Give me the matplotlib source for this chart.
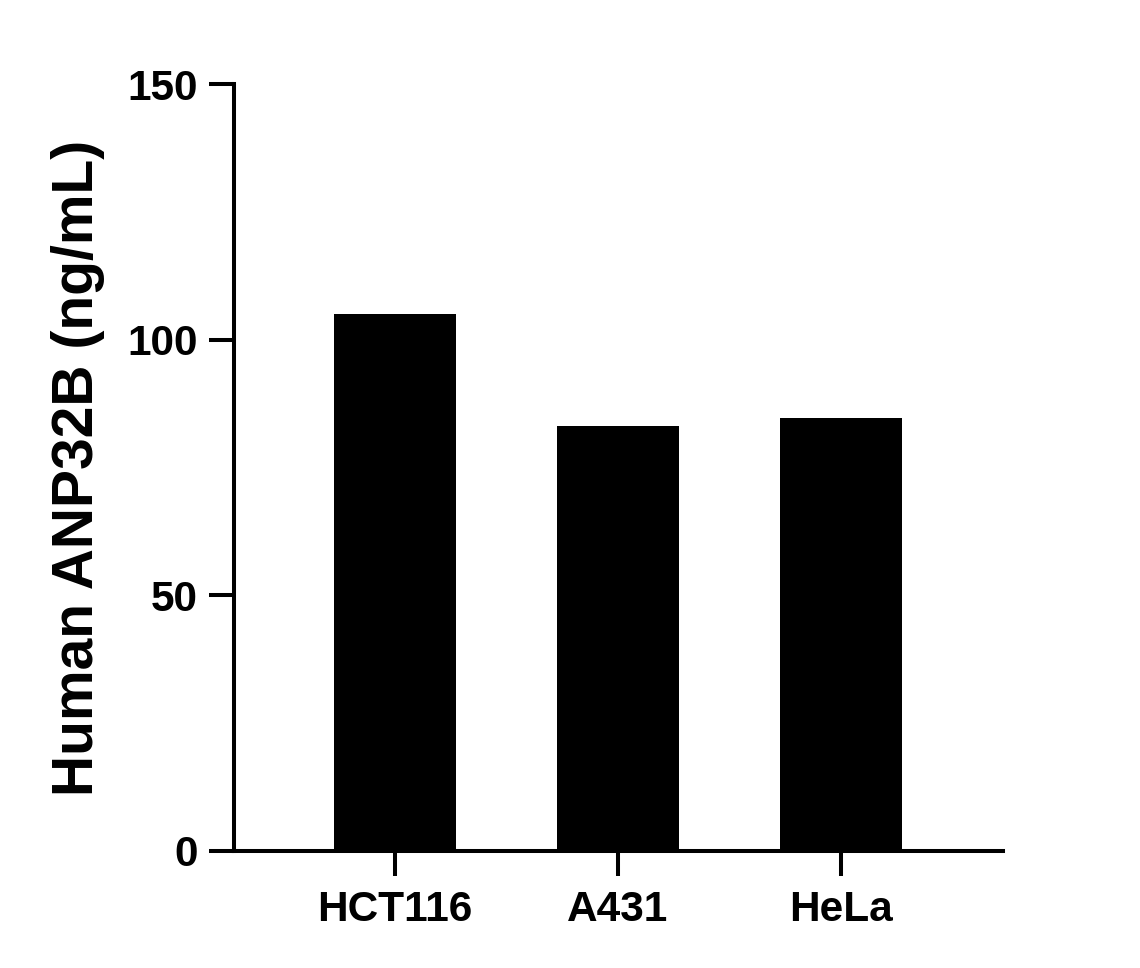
import matplotlib
matplotlib.use('Agg')
import matplotlib.pyplot as plt
import numpy as np

# data
cell_lines = ['HCT116', 'A431', 'HeLa']
conc = [105.0, 83.1, 84.7]
y_ticks = [0, 50, 100, 150]

plt.rcParams['font.family'] = ['Liberation Sans', 'DejaVu Sans']
plt.rcParams['font.weight'] = 'bold'

fig = plt.figure(figsize=(11.4, 9.68), dpi=100)
ax = fig.add_axes([0.2053, 0.1209, 0.6745, 0.7923])

x = np.arange(len(cell_lines))
ax.bar(x, conc, width=0.55, color='black')

ax.set_xlim(-0.722, 2.726)
ax.set_ylim(0, 150)
ax.set_yticks(y_ticks)
ax.set_xticks(x)
ax.set_xticklabels(cell_lines)

for s in ['top', 'right']:
    ax.spines[s].set_visible(False)
for s in ['left', 'bottom']:
    ax.spines[s].set_linewidth(2.9)

ax.tick_params(axis='both', length=18, width=2.9, labelsize=30.5)
ax.tick_params(axis='y', pad=8)
ax.tick_params(axis='x', pad=10)
for lbl in ax.get_xticklabels() + ax.get_yticklabels():
    lbl.set_fontweight('bold')

ax.set_ylabel('Human ANP32B (ng/mL)', fontsize=41, fontweight='bold', labelpad=16)

fig.savefig('out.png', dpi=100)
